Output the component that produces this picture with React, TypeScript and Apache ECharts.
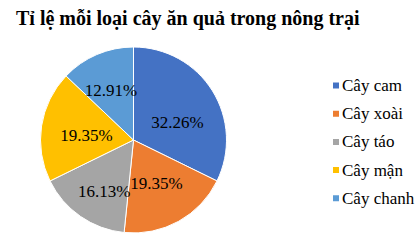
import React, { useEffect, useRef } from "react";
import * as echarts from "echarts";

const categories = ["Cây cam", "Cây xoài", "Cây táo", "Cây mận", "Cây chanh"];
const percents = [32.26, 19.35, 16.13, 19.35, 12.91];
const colors = ["#4472C4", "#ED7D31", "#A5A5A5", "#FFC000", "#5B9BD5"];
const title = "Tỉ lệ mỗi loại cây ăn quả trong nông trại";
const FONT = "'Liberation Serif', 'Times New Roman', serif";

export default function App() {
  const ref = useRef<HTMLDivElement>(null);
  useEffect(() => {
    const chart = echarts.init(ref.current!, null, { renderer: "svg" });
    // small label nudges to mimic the original's "best fit" label placement
    const labelNudge = [[2, 9], [-1, 0], [-1, 11], [2, 3], [-3, -4]];
    chart.setOption({
      animation: false,
      backgroundColor: "#ffffff",
      textStyle: { fontFamily: FONT },
      title: {
        text: title,
        left: 11,
        top: 3,
        textStyle: {
          fontFamily: FONT,
          fontWeight: "bold",
          fontSize: 20,
          color: "#000",
        },
      },
      legend: {
        orient: "vertical",
        left: 326,
        top: 72,
        itemWidth: 8,
        itemHeight: 8,
        itemGap: 11.2,
        icon: "rect",
        textStyle: {
          fontFamily: FONT,
          fontSize: 17,
          color: "#000",
          padding: [0, 0, 0, -3],
        },
        data: categories,
      },
      series: [
        {
          type: "pie",
          center: [133.5, 140],
          radius: [0, 93],
          startAngle: 90,
          clockwise: true,
          color: colors,
          itemStyle: { borderColor: "#fff", borderWidth: 1 },
          labelLayout: { hideOverlap: false },
          label: {
            show: true,
            position: "inside",
            formatter: (p: any) => p.value.toFixed(2) + "%",
            fontFamily: FONT,
            fontSize: 17,
            color: "#000",
          },
          labelLine: { show: false },
          data: categories.map((c, i) => ({
            name: c,
            value: percents[i],
            label: { offset: labelNudge[i] },
          })),
        },
      ],
    });
    return () => chart.dispose();
  }, []);
  return <div ref={ref} style={{ width: 418, height: 242, position: "absolute", left: 0, top: 0 }} />;
}
